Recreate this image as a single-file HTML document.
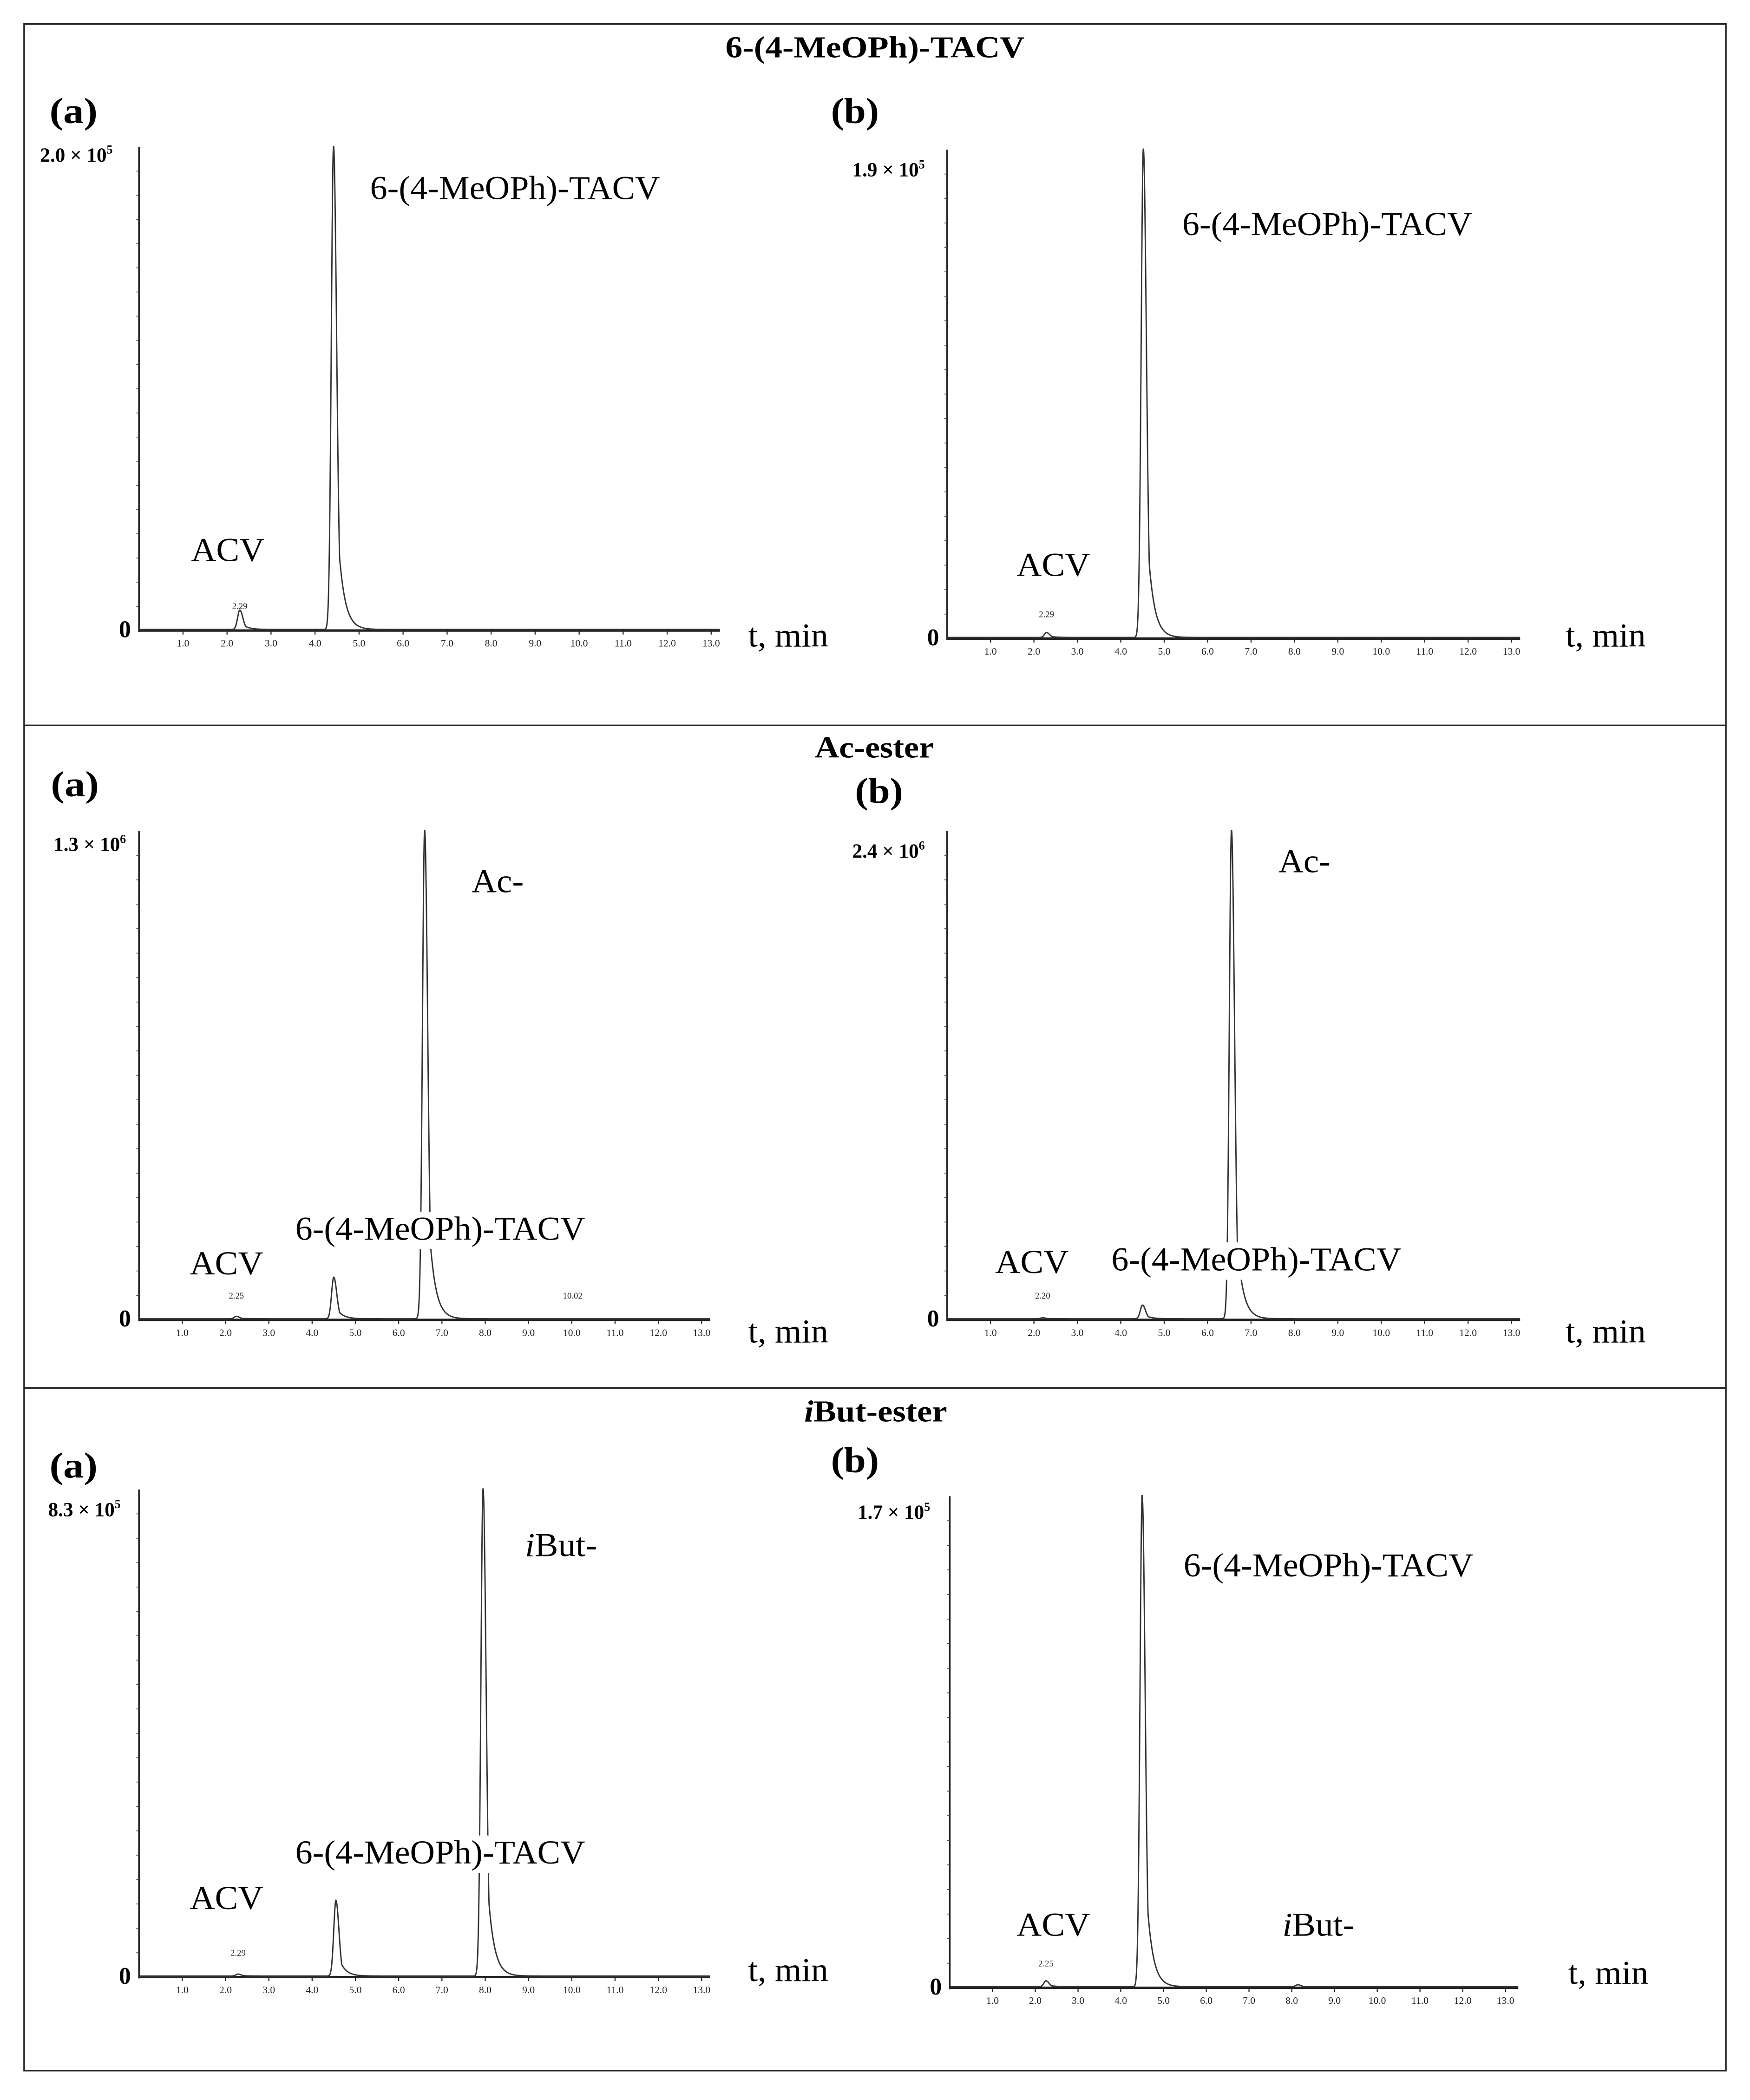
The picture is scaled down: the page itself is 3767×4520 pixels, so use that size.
<!DOCTYPE html>
<html><head><meta charset="utf-8"><style>
html,body{margin:0;padding:0;background:#fff}
svg{display:block}
text{font-family:"Liberation Serif",serif}
</style></head><body>
<svg id="fig" width="3767" height="4520" viewBox="0 0 1310 1572" xmlns="http://www.w3.org/2000/svg">
<rect x="18" y="18" width="1274" height="1532" fill="none" stroke="#222" stroke-width="1.2"/>
<line x1="18" y1="543" x2="1292" y2="543" stroke="#222" stroke-width="1.2"/>
<line x1="18" y1="1039" x2="1292" y2="1039" stroke="#222" stroke-width="1.2"/>
<text x="543" y="43" font-size="23" font-weight="bold" textLength="224" lengthAdjust="spacingAndGlyphs">6-(4-MeOPh)-TACV</text>
<text x="610" y="567" font-size="23" font-weight="bold" textLength="89" lengthAdjust="spacingAndGlyphs">Ac-ester</text>
<text x="602" y="1064" font-size="23" font-weight="bold" textLength="107" lengthAdjust="spacingAndGlyphs"><tspan font-style="italic">i</tspan>But-ester</text>
<g id="plots"></g>
</svg>
<script>
// peak retention times (min) and relative heights (fraction of full scale) per panel
const p1aTimes = [2.29, 4.42];
const p1aHeights = [0.04, 1.0];
const p1bTimes = [2.29, 4.52];
const p1bHeights = [0.01, 1.0];
const p2aTimes = [2.25, 4.5, 6.6];
const p2aHeights = [0.005, 0.085, 1.0];
const p2bTimes = [2.2, 4.5, 6.55];
const p2bHeights = [0.002, 0.028, 1.0];
const p3aTimes = [2.29, 4.55, 7.95];
const p3aHeights = [0.004, 0.155, 1.0];
const p3bTimes = [2.25, 4.5, 8.14];
const p3bHeights = [0.012, 1.0, 0.004];
const tickLabels = ["1.0","2.0","3.0","4.0","5.0","6.0","7.0","8.0","9.0","10.0","11.0","12.0","13.0"];

const NS = "http://www.w3.org/2000/svg";
const root = document.getElementById("plots");
function mk(tag, attrs, parent, txt){
  const e = document.createElementNS(NS, tag);
  for (const k in attrs) e.setAttribute(k, attrs[k]);
  if (txt !== undefined) e.textContent = txt;
  (parent||root).appendChild(e);
  return e;
}
const widths = {"ACV":55, "6-(4-MeOPh)-TACV":217, "Ac-":39, "iBut-":54};
const panels = [
  {id:"1a", x0:104, pxMin:32.95, tMax:13.2, base:472, top:110, times:p1aTimes, heights:p1aHeights, scale:"2.0 × 10", exp:"5", sx:30, sy:121, tag:"(a)", tagx:37, tagy:92,
   labels:[["ACV",143,420],["6-(4-MeOPh)-TACV",277,149]], zx:89, tx:560, ty:484, peakLab:[["2.29",2.29]]},
  {id:"1b", x0:709, pxMin:32.5, tMax:13.2, base:478, top:112, times:p1bTimes, heights:p1bHeights, scale:"1.9 × 10", exp:"5", sx:638, sy:132, tag:"(b)", tagx:622, tagy:92,
   labels:[["ACV",761,431],["6-(4-MeOPh)-TACV",885,176]], zx:694, tx:1172, ty:484, peakLab:[["2.29",2.29]]},
  {id:"2a", x0:104, pxMin:32.4, tMax:13.2, base:988, top:622, times:p2aTimes, heights:p2aHeights, scale:"1.3 × 10", exp:"6", sx:40, sy:637, tag:"(a)", tagx:38, tagy:596,
   labels:[["ACV",142,954],["6-(4-MeOPh)-TACV",221,928,true],["Ac-",353,668]], zx:89, tx:560, ty:1005, peakLab:[["2.25",2.25],["10.02",10.02]]},
  {id:"2b", x0:709, pxMin:32.5, tMax:13.2, base:988, top:622, times:p2bTimes, heights:p2bHeights, scale:"2.4 × 10", exp:"6", sx:638, sy:642, tag:"(b)", tagx:640, tagy:601,
   labels:[["ACV",745,953],["6-(4-MeOPh)-TACV",832,951,true],["Ac-",957,653]], zx:694, tx:1172, ty:1005, peakLab:[["2.20",2.2]]},
  {id:"3a", x0:104, pxMin:32.4, tMax:13.2, base:1480, top:1115, times:p3aTimes, heights:p3aHeights, scale:"8.3 × 10", exp:"5", sx:36, sy:1135, tag:"(a)", tagx:37, tagy:1106,
   labels:[["ACV",142,1429],["6-(4-MeOPh)-TACV",221,1395,true],["iBut-",393,1165]], zx:89, tx:560, ty:1483, peakLab:[["2.29",2.29]]},
  {id:"3b", x0:711, pxMin:32.0, tMax:13.3, base:1488, top:1120, times:p3bTimes, heights:p3bHeights, scale:"1.7 × 10", exp:"5", sx:642, sy:1137, tag:"(b)", tagx:622, tagy:1102,
   labels:[["ACV",761,1449],["6-(4-MeOPh)-TACV",886,1180],["iBut-",960,1449]], zx:696, tx:1174, ty:1485, peakLab:[["2.25",2.25]]}
];

function peakShape(t, tr){
  const d = t - tr;
  if (d < 0) return Math.exp(-(d*d)/(2*0.05*0.05));
  const g = Math.exp(-(d*d)/(2*0.07*0.07));
  const tail = 0.4*Math.exp(-d/0.14);
  return Math.max(g, tail*(1-Math.exp(-d/0.03)));
}

panels.forEach(p=>{
  const g = mk("g", {});
  
  
  const X = t => p.x0 + t*p.pxMin;
  const H = p.base - p.top;
  const Y = v => p.base - v*H;
  const xEnd = X(p.tMax);
  const ya = mk("line", {x1:p.x0, y1:p.top, x2:p.x0, y2:p.base+1, stroke:"#222","stroke-width":1.2}, g);
  
  
  for (let i=1;i<20;i++){
    const yy = p.base - i*H/20;
    mk("line", {x1:p.x0-2, y1:yy, x2:p.x0, y2:yy, stroke:"#444","stroke-width":0.6}, g);
  }
  const xa = mk("line", {x1:p.x0, y1:p.base, x2:xEnd, y2:p.base, stroke:"#222","stroke-width":1.8}, g);
  
  
  tickLabels.forEach((lab,i)=>{
    const t = parseFloat(lab);
    mk("line", {x1:X(t), y1:p.base, x2:X(t), y2:p.base+3, stroke:"#222","stroke-width":0.8}, g);
    const tl = mk("text", {x:X(t), y:p.base+12, "text-anchor":"middle","font-size":7.5, fill:"#222","font-family":"Liberation Sans, sans-serif"}, g, lab);
    
    
  });
  let d = "";
  for (let t=0; t<=p.tMax; t+=0.005){
    let v = 0;
    p.times.forEach((tr,k)=>{ v += p.heights[k]*peakShape(t,tr); });
    v = Math.min(v,1);
    d += (d?"L":"M") + X(t).toFixed(2) + "," + (Y(v)-0.8).toFixed(2);
  }
  const tr = mk("path", {d:d, fill:"none", stroke:"#333","stroke-width":1}, g);
  
  
  p.peakLab.forEach(pl=>{
    const e = mk("text", {x:X(pl[1]), y:p.base-16, "text-anchor":"middle","font-size":6.5, fill:"#222","font-family":"Liberation Sans, sans-serif"}, g, pl[0]);
    
    
  });
  const sl = mk("text", {x:p.sx, y:p.sy, "font-size":15, "font-weight":"bold"}, g);
  
  
  mk("tspan", {}, sl, p.scale);
  mk("tspan", {dy:-6, "font-size":9}, sl, p.exp);
  const z = mk("text", {x:p.zx, y:p.base+5, "font-size":18, "font-weight":"bold"}, g, "0");
  
  
  const tg = mk("text", {x:p.tagx, y:p.tagy, "font-size":27, "font-weight":"bold", textLength:36, lengthAdjust:"spacingAndGlyphs"}, g, p.tag);
  
  
  const xt = mk("text", {x:p.tx, y:p.ty, "font-size":25, textLength:60, lengthAdjust:"spacingAndGlyphs"}, g, "t, min");
  
  
  p.labels.forEach(l=>{
    if (l[3]) mk("rect", {x:l[1]-2, y:l[2]-21, width:222, height:28, fill:"#fff"}, g);
    const e = mk("text", {x:l[1], y:l[2], "font-size":25, textLength:widths[l[0]], lengthAdjust:"spacingAndGlyphs"}, g);
    
    
    if (l[0].startsWith("i")) { mk("tspan", {"font-style":"italic"}, e, "i"); mk("tspan", {}, e, l[0].slice(1)); }
    else e.textContent = l[0];
  });
});
</script>
</body></html>
